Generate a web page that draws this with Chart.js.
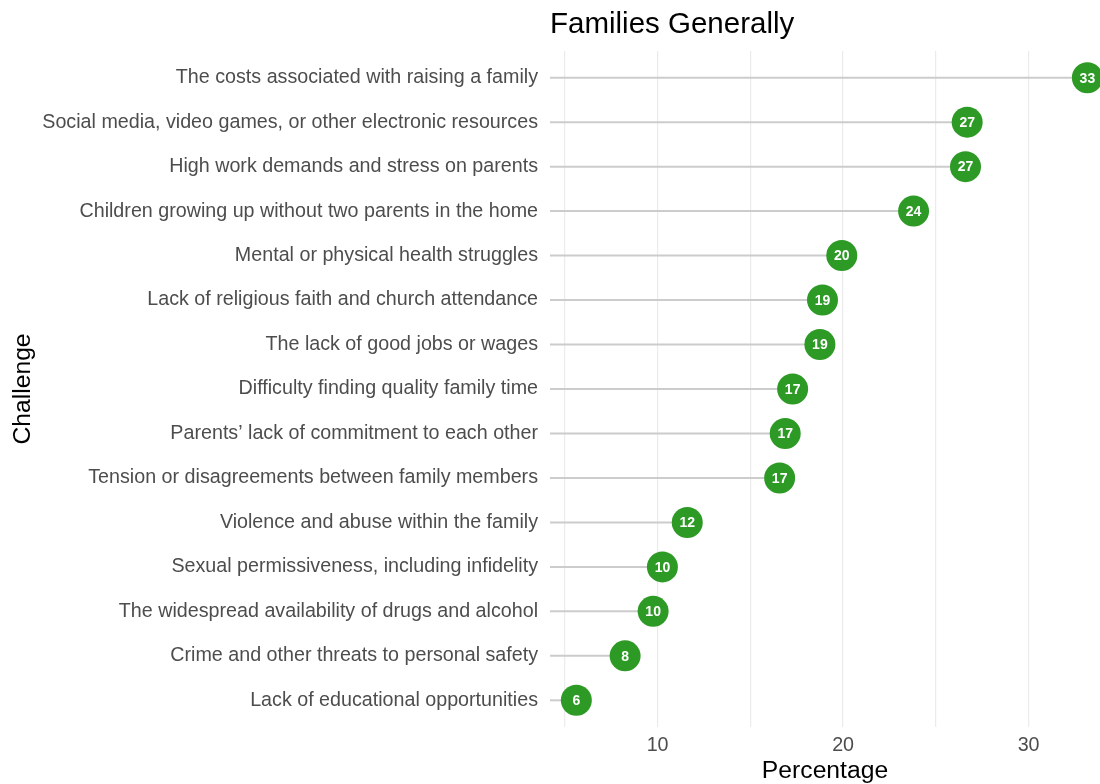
<!DOCTYPE html>
<html>
<head>
<meta charset="utf-8">
<script src="https://cdn.jsdelivr.net/npm/chart.js@4/dist/chart.umd.min.js"></script>
<style>
  html, body { margin: 0; padding: 0; background: #fff; }
  #wrap { width: 1100px; height: 784px; }
</style>
</head>
<body>
<div id="wrap"><canvas id="chart" width="1100" height="784"></canvas></div>
<script>
// challenges, top to bottom
const challenges = [
    'The costs associated with raising a family',
    'Social media, video games, or other electronic resources',
    'High work demands and stress on parents',
    'Children growing up without two parents in the home',
    'Mental or physical health struggles',
    'Lack of religious faith and church attendance',
    'The lack of good jobs or wages',
    'Difficulty finding quality family time',
    'Parents\u2019 lack of commitment to each other',
    'Tension or disagreements between family members',
    'Violence and abuse within the family',
    'Sexual permissiveness, including infidelity',
    'The widespread availability of drugs and alcohol',
    'Crime and other threats to personal safety',
    'Lack of educational opportunities'
];

// percentages
const percentages = [33.17, 26.69, 26.6, 23.8, 19.93, 18.89, 18.75, 17.28, 16.88, 16.58, 11.6, 10.26, 9.76, 8.25, 5.62];

const xTicks = [10, 20, 30];
const xGrid = [5, 10, 15, 20, 25, 30];
const xMin = 4.2;
const xMax = 33.85;

const green = '#2e9a26';
const fontFamily = "'Liberation Sans', Arial, Helvetica, sans-serif";

// segments from the left edge of the panel to each point
const segmentDatasets = percentages.map((v, i) => ({
    type: 'line',
    order: 2,
    data: [{ x: xMin, y: i }, { x: v, y: i }],
    borderColor: '#cccccc',
    borderWidth: 2,
    pointRadius: 0,
    pointHoverRadius: 0,
    fill: false
}));

const pointDataset = {
    type: 'scatter',
    order: 1,
    clip: false,
    data: percentages.map((v, i) => ({ x: v, y: i })),
    backgroundColor: green,
    borderColor: green,
    borderWidth: 0,
    pointRadius: 15.5,
    pointHoverRadius: 15.5
};

// white rounded value inside each dot
const dotLabels = {
    id: 'dotLabels',
    afterDatasetsDraw(chart) {
        const idx = chart.data.datasets.length - 1;
        const meta = chart.getDatasetMeta(idx);
        const ctx = chart.ctx;
        ctx.save();
        ctx.fillStyle = '#ffffff';
        ctx.font = 'bold 14px ' + fontFamily;
        ctx.textAlign = 'center';
        ctx.textBaseline = 'middle';
        meta.data.forEach((pt, i) => {
            ctx.fillText(String(Math.round(percentages[i])), pt.x, pt.y + 1);
        });
        ctx.restore();
    }
};

new Chart(document.getElementById('chart'), {
    data: {
        datasets: [...segmentDatasets, pointDataset]
    },
    options: {
        responsive: false,
        animation: false,
        layout: { autoPadding: false, padding: 0 },
        plugins: {
            legend: { display: false },
            tooltip: { enabled: false },
            title: {
                display: true,
                text: 'Families Generally',
                align: 'start',
                fullSize: false,
                color: '#000000',
                font: { size: 29.5, family: fontFamily, weight: 'normal' },
                padding: { top: 7, bottom: 8.6 }
            }
        },
        scales: {
            x: {
                type: 'linear',
                min: xMin,
                max: xMax,
                afterBuildTicks: (scale) => {
                    scale.ticks = xGrid.map(v => ({ value: v }));
                },
                ticks: {
                    color: '#4d4d4d',
                    font: { size: 19.7, family: fontFamily },
                    padding: 7,
                    callback: (v) => xTicks.includes(v) ? String(v) : ''
                },
                grid: {
                    color: '#ebebeb',
                    lineWidth: 1.2,
                    drawTicks: false
                },
                border: { display: false },
                title: {
                    display: true,
                    text: 'Percentage',
                    color: '#000000',
                    font: { size: 24.7, family: fontFamily },
                    padding: { top: 0, bottom: -2 }
                },
                afterFit: (scale) => { scale.height = 57; }
            },
            y: {
                type: 'linear',
                reverse: true,
                min: -0.6,
                max: 14.6,
                afterBuildTicks: (scale) => {
                    scale.ticks = challenges.map((c, i) => ({ value: i }));
                },
                ticks: {
                    color: '#4d4d4d',
                    font: { size: 19.7, family: fontFamily },
                    padding: 12,
                    autoSkip: false,
                    callback: (v) => challenges[v] || ''
                },
                grid: { display: false, drawTicks: false },
                border: { display: false },
                title: {
                    display: true,
                    text: 'Challenge',
                    color: '#000000',
                    font: { size: 24.7, family: fontFamily },
                    padding: { top: 8, bottom: 0 }
                },
                afterFit: (scale) => { scale.width = 550; }
            }
        }
    },
    plugins: [dotLabels]
});
</script>
</body>
</html>
